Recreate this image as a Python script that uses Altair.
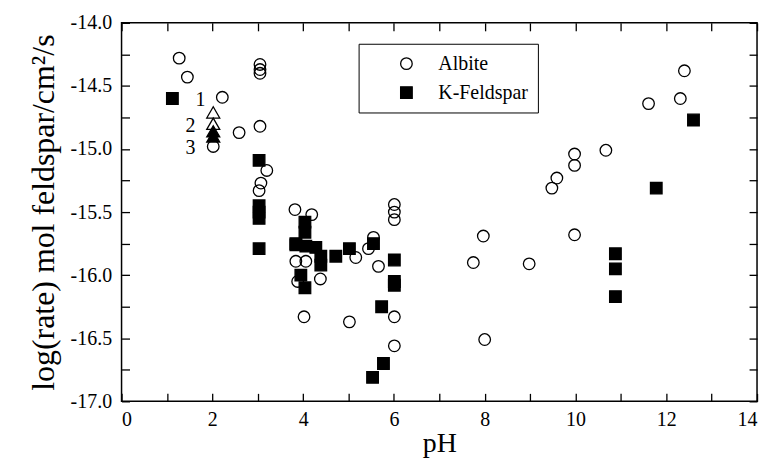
import altair as alt
import pandas as pd

SERIF = "Liberation Serif"

# Albite (open circles)
albite_ph = [1.27, 1.45, 2.22, 2.02, 2.59, 3.05, 3.05, 3.05, 3.05, 3.2, 3.07, 3.03,
             3.82, 4.19, 3.84, 4.06, 3.88, 4.38, 4.02, 5.02, 5.16, 5.44, 5.55, 5.66,
             6.01, 6.01, 6.01, 6.01, 6.01, 7.75, 7.97, 8.0, 8.98, 9.48, 9.59,
             9.98, 9.98, 9.98, 10.67, 11.61, 12.31, 12.4]
albite_rate = [-14.28, -14.43, -14.59, -14.98, -14.87, -14.33, -14.37, -14.40, -14.82, -15.17, -15.27, -15.33,
               -15.48, -15.52, -15.89, -15.89, -16.05, -16.03, -16.33, -16.37, -15.86, -15.79, -15.70, -15.93,
               -15.44, -15.50, -15.56, -16.33, -16.56, -15.90, -15.69, -16.51, -15.91, -15.31, -15.23,
               -15.04, -15.13, -15.68, -15.01, -14.64, -14.60, -14.38]

# K-Feldspar (filled squares)
kfeld_ph = [1.12, 3.03, 3.03, 3.03, 3.03, 3.03, 3.84, 4.04, 4.04, 3.84, 4.06, 4.28,
            4.39, 4.39, 3.95, 4.04, 4.72, 5.02, 5.55, 6.01, 6.01, 6.01, 5.73, 5.77,
            5.53, 10.88, 10.88, 10.88, 11.78, 12.6]
kfeld_rate = [-14.60, -15.09, -15.45, -15.50, -15.55, -15.79, -15.75, -15.58, -15.66, -15.76, -15.77, -15.78,
              -15.85, -15.92, -16.00, -16.10, -15.85, -15.79, -15.75, -15.88, -16.05, -16.08, -16.25, -16.70,
              -16.81, -15.83, -15.95, -16.17, -15.31, -14.77]

# numbered triangles at pH 2
tri_open_ph = [2.02, 2.02]
tri_open_rate = [-14.71, -14.80]
tri_filled_ph = [2.02, 2.02]
tri_filled_rate = [-14.86, -14.90]

tri_label_text = ["1", "2", "3"]
tri_label_ph = [1.74, 1.52, 1.52]
tri_label_rate = [-14.61, -14.82, -14.99]

x_ticks = [0, 1, 2, 3, 4, 5, 6, 7, 8, 9, 10, 11, 12, 13, 14]
y_ticks = [-17.0, -16.75, -16.5, -16.25, -16.0, -15.75, -15.5, -15.25,
           -15.0, -14.75, -14.5, -14.25, -14.0]
legend_names = ["Albite", "K-Feldspar"]

df = pd.DataFrame({
    "ph": albite_ph + kfeld_ph,
    "rate": albite_rate + kfeld_rate,
    "mineral": ["Albite"] * len(albite_ph) + ["K-Feldspar"] * len(kfeld_ph),
})
tri_open_df = pd.DataFrame({"ph": tri_open_ph, "rate": tri_open_rate})
tri_filled_df = pd.DataFrame({"ph": tri_filled_ph, "rate": tri_filled_rate})
lab_df = pd.DataFrame({"ph": tri_label_ph, "rate": tri_label_rate, "t": tri_label_text})

xs = alt.Scale(domain=[0, 14], nice=False, zero=False)
ys = alt.Scale(domain=[-17, -14], nice=False, zero=False)

common_axis = dict(offset=-8, tickSize=8, domain=False, grid=False, tickColor="black",
                   tickWidth=1.3, labelFont=SERIF, labelColor="black", labelOverlap=False)

x_axis = alt.Axis(values=x_ticks, labelExpr="datum.value % 2 == 0 ? datum.label : ''",
                  labelPadding=8, labelFontSize=20, title="pH", titleFont=SERIF,
                  titleFontSize=28, titleFontWeight="normal", titleColor="black",
                  titlePadding=0, **common_axis)
y_axis = alt.Axis(values=y_ticks,
                  labelExpr="abs(datum.value*2 - round(datum.value*2)) < 0.001 ? replace(format(datum.value, '.1f'), '\u2212', '-') : ''",
                  labelPadding=10, labelFontSize=20, title="log(rate) mol feldspar/cm\u00b2/s",
                  titleFont=SERIF, titleFontSize=32, titleFontWeight="normal", titleColor="black",
                  titlePadding=10, **common_axis)
top_axis = alt.Axis(values=x_ticks, orient="top", labels=False, title="", **common_axis)
right_axis = alt.Axis(values=y_ticks, orient="right", labels=False, title="", **common_axis)

leg = alt.Legend(title=None, orient="none", legendX=238, legendY=21, strokeColor="black",
                 padding=10, rowPadding=9, symbolOffset=28, labelOffset=22,
                 labelFont=SERIF, labelFontSize=20, labelFontWeight="normal", labelColor="black",
                 symbolSize=135, symbolStrokeWidth=1.3)

points = alt.Chart(df).mark_point(filled=True, size=135, strokeWidth=1.3, opacity=1).encode(
    x=alt.X("ph:Q", scale=xs, axis=x_axis),
    y=alt.Y("rate:Q", scale=ys, axis=y_axis),
    shape=alt.Shape("mineral:N", scale=alt.Scale(domain=legend_names, range=["circle", "square"]), legend=leg),
    fill=alt.Fill("mineral:N", scale=alt.Scale(domain=legend_names, range=["transparent", "black"]), legend=leg),
    stroke=alt.Stroke("mineral:N", scale=alt.Scale(domain=legend_names, range=["black", "black"]), legend=leg),
)

frame = alt.Chart(df).mark_point(opacity=0).encode(
    x=alt.X("ph:Q", scale=xs, axis=top_axis),
    y=alt.Y("rate:Q", scale=ys, axis=right_axis),
)

tris_open = alt.Chart(tri_open_df).mark_point(
    filled=True, shape="triangle-up", size=170, strokeWidth=1.3, opacity=1,
    fill="transparent", stroke="black").encode(
    x=alt.X("ph:Q", scale=xs, axis=None),
    y=alt.Y("rate:Q", scale=ys, axis=None),
)
tris_filled = alt.Chart(tri_filled_df).mark_point(
    filled=True, shape="triangle-up", size=170, strokeWidth=1.3, opacity=1,
    fill="black", stroke="black").encode(
    x=alt.X("ph:Q", scale=xs, axis=None),
    y=alt.Y("rate:Q", scale=ys, axis=None),
)

labels = alt.Chart(lab_df).mark_text(font=SERIF, fontSize=20, color="black").encode(
    x=alt.X("ph:Q", scale=xs, axis=None),
    y=alt.Y("rate:Q", scale=ys, axis=None),
    text="t:N",
)

chart = alt.layer(points, tris_open, tris_filled, labels, frame).resolve_axis(
    x="independent", y="independent"
).properties(
    width=638, height=380,
    autosize=alt.AutoSizeParams(type="none"),
    padding={"left": 114, "top": 14, "right": 8, "bottom": 57},
    background="white",
).configure_view(stroke="black", strokeWidth=1.5)

chart.save("out.html", embed_options={"renderer": "svg", "actions": False})
